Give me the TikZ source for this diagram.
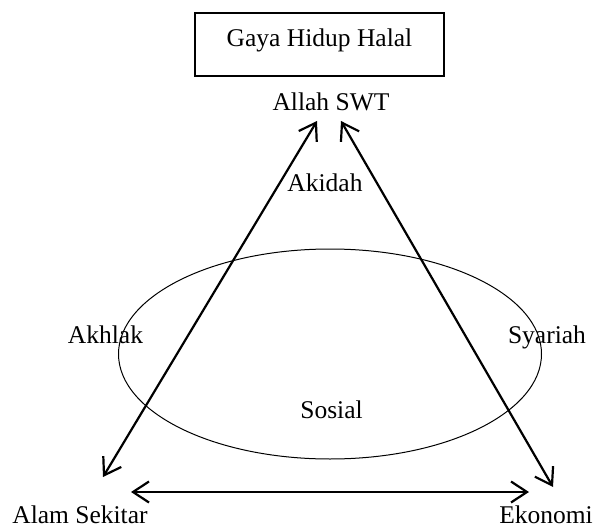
\documentclass[tikz,border=0pt]{standalone}
\usepackage{fontspec}
\setmainfont{Liberation Serif}
\usetikzlibrary{arrows.meta,shapes.geometric}
\begin{document}
\begin{tikzpicture}[x=1pt,y=-1pt,
  lbl/.style={anchor=base,inner sep=0pt,font=\fontsize{25.5}{30}\selectfont},
  conn/.style={line width=2.2pt,{Straight Barb[length=16pt,width=21pt]}-{Straight Barb[length=16pt,width=21pt]}},
  titlebox/.style={draw,line width=1.2pt,rectangle,minimum width=249pt,minimum height=63pt,inner sep=0pt},
  circle0/.style={draw,line width=1pt,ellipse,minimum width=423pt,minimum height=210pt,inner sep=0pt}]
\useasboundingbox (0,0) rectangle (596,529);
\node[titlebox] (box) at (319.5,44.5) {};
\node[lbl] (title) at (319.5,47) {Gaya Hidup Halal};
\node[circle0] (ell) at (330,354) {};
\node[lbl] (allah) at (331,111) {Allah SWT};
\node[lbl] (akidah) at (325,192) {Akidah};
\node[lbl] (akhlak) at (105.5,343) {Akhlak};
\node[lbl] (syariah) at (547,343) {Syariah};
\node[lbl] (sosial) at (331.5,418) {Sosial};
\node[lbl] (alam) at (80,523) {Alam Sekitar};
\node[lbl] (ekonomi) at (546,523) {Ekonomi};
\coordinate (tl) at (317,121);
\coordinate (tr) at (341,121);
\coordinate (bl) at (103,477);
\coordinate (br) at (553,487);
\coordinate (hl) at (131,492);
\coordinate (hr) at (529,492);
\draw[conn] (tl) -- (bl);
\draw[conn] (tr) -- (br);
\draw[conn] (hl) -- (hr);
\end{tikzpicture}
\end{document}
